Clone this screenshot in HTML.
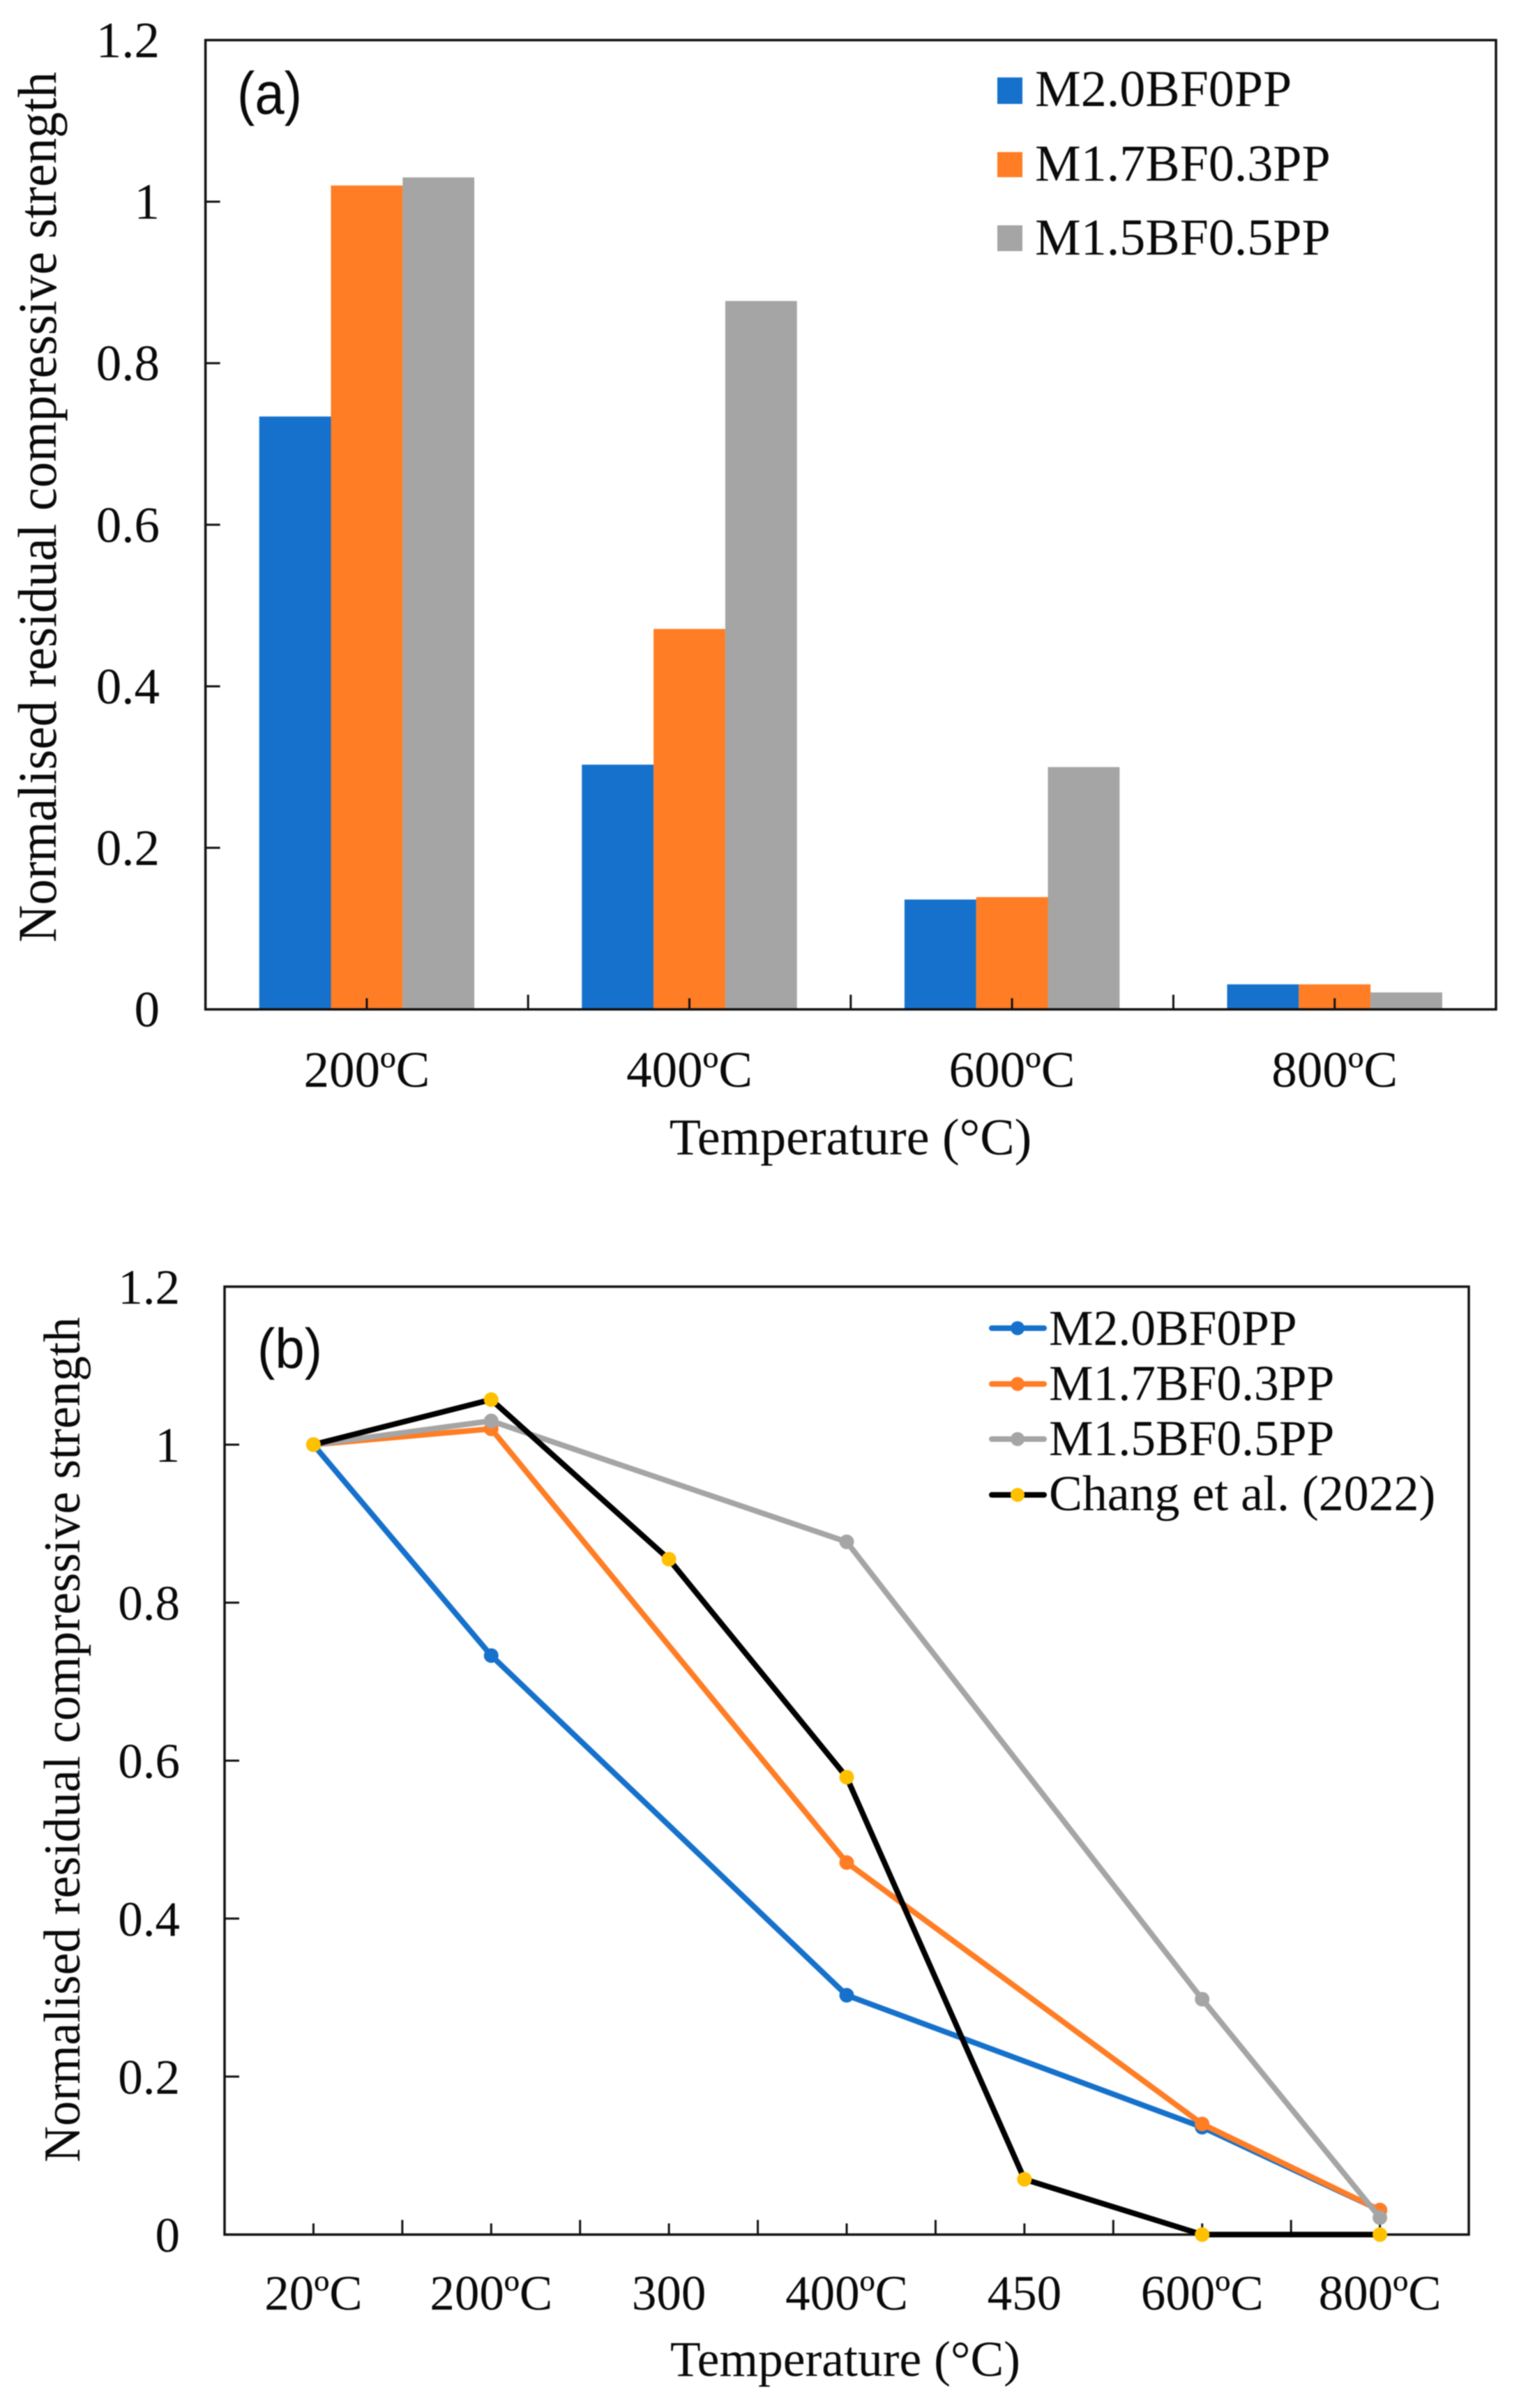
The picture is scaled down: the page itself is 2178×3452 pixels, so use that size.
<!DOCTYPE html>
<html lang="en">
<head>
<meta charset="utf-8">
<title>Normalised residual compressive strength</title>
<style>
html,body{margin:0;padding:0;background:#fff;width:2178px;height:3452px;overflow:hidden}
svg{display:block;filter:blur(0.7px)}
text{font-family:"Liberation Serif",serif;fill:#0a0a0a}
.sans{font-family:"Liberation Sans",sans-serif}
</style>
</head>
<body>
<svg id="root" xmlns="http://www.w3.org/2000/svg" width="2178" height="3452" viewBox="0 0 2178 3452">
  <rect x="0" y="0" width="2178" height="3452" fill="#fff"/>
  <g id="chartA"></g>
  <g id="chartB"></g>

  <text class="sans" x="340" y="163" font-size="85" textLength="93" lengthAdjust="spacingAndGlyphs">(a)</text>
  <text transform="translate(80,727) rotate(-90)" text-anchor="middle" font-size="78" textLength="1248" lengthAdjust="spacingAndGlyphs">Normalised residual compressive strength</text>
  <text x="1219.5" y="1655" text-anchor="middle" font-size="74">Temperature (°C)</text>

  <g>
    <g>
      <rect x="1430" y="111" width="36" height="38" fill="#1571CB"/>
      <text x="1484" y="152" font-size="74">M2.0BF0PP</text>
    </g>
    <g>
      <rect x="1430" y="218" width="36" height="36" fill="#FF7D25"/>
      <text x="1484" y="259" font-size="74">M1.7BF0.3PP</text>
    </g>
    <g>
      <rect x="1430" y="323" width="36" height="37" fill="#A5A5A5"/>
      <text x="1484" y="365" font-size="74">M1.5BF0.5PP</text>
    </g>
  </g>

  <text class="sans" x="369" y="1961" font-size="81" textLength="93" lengthAdjust="spacingAndGlyphs">(b)</text>
  <text transform="translate(114,2494) rotate(-90)" text-anchor="middle" font-size="74" textLength="1212" lengthAdjust="spacingAndGlyphs">Normalised residual compressive strength</text>
  <text x="1212" y="3406" text-anchor="middle" font-size="71.5">Temperature (°C)</text>

  <g>
    <g>
      <line x1="1422" x2="1497" y1="1904" y2="1904" stroke="#1571CB" stroke-width="8" stroke-linecap="round"/>
      <circle cx="1459" cy="1904" r="10" fill="#1571CB"/>
      <text x="1504" y="1928" font-size="71.5">M2.0BF0PP</text>
    </g>
    <g>
      <line x1="1422" x2="1497" y1="1984" y2="1984" stroke="#FF7D25" stroke-width="8" stroke-linecap="round"/>
      <circle cx="1459" cy="1984" r="10" fill="#FF7D25"/>
      <text x="1504" y="2007" font-size="71.5">M1.7BF0.3PP</text>
    </g>
    <g>
      <line x1="1422" x2="1497" y1="2063" y2="2063" stroke="#A5A5A5" stroke-width="8" stroke-linecap="round"/>
      <circle cx="1459" cy="2063" r="10" fill="#A5A5A5"/>
      <text x="1504" y="2086" font-size="71.5">M1.5BF0.5PP</text>
    </g>
    <g>
      <line x1="1422" x2="1497" y1="2143" y2="2143" stroke="#000" stroke-width="8" stroke-linecap="round"/>
      <circle cx="1459" cy="2143" r="10" fill="#FFC000"/>
      <text x="1504" y="2165" font-size="71.8">Chang et al. (2022)</text>
    </g>
  </g>
</svg>
<script>
// ---- Shared value axis ----
var yTickValues = [0, 0.2, 0.4, 0.6, 0.8, 1, 1.2];
var yTickLabels = ['0', '0.2', '0.4', '0.6', '0.8', '1', '1.2'];

// ---- Chart (a) data ----
var barCategories = ['200ºC', '400ºC', '600ºC', '800ºC'];
var barM20 = [0.734, 0.303, 0.136, 0.031];
var barM17 = [1.02, 0.471, 0.139, 0.031];
var barM15 = [1.03, 0.877, 0.30, 0.021];

// ---- Chart (b) data ----
var lineCategories = ['20ºC', '200ºC', '300', '400ºC', '450', '600ºC', '800ºC'];
var lineM20 = [1, 0.733, null, 0.303, null, 0.136, 0.031];
var lineM17 = [1, 1.02, null, 0.471, null, 0.14, 0.031];
var lineM15 = [1, 1.03, null, 0.877, null, 0.298, 0.0215];
var lineChang = [1, 1.057, 0.855, 0.579, 0.07, 0, 0];

var NS = 'http://www.w3.org/2000/svg';
var BLUE = '#1571CB', ORANGE = '#FF7D25', GRAY = '#A5A5A5', GOLD = '#FFC000', AXIS = '#111';

function make(parent, tag, attrs, txt) {
  var el = document.createElementNS(NS, tag);
  for (var k in attrs) el.setAttribute(k, attrs[k]);
  if (txt !== undefined) el.textContent = txt;
  parent.appendChild(el);
  return el;
}

function yScale(box, v) {
  return box.bottom - (v / 1.2) * (box.bottom - box.top);
}
function bandWidth(box, count) {
  return (box.right - box.left) / count;
}
function xCenter(box, count, i) {
  return box.left + bandWidth(box, count) * (i + 0.5);
}

function drawAxes(root, box, categories, prefix) {
  var frame = make(root, 'rect', {x: box.left, y: box.top, width: box.right - box.left, height: box.bottom - box.top, fill: 'none', stroke: AXIS, 'stroke-width': 3.5});
  
  

  yTickValues.forEach(function (v, i) {
    var y = yScale(box, v);
    if (i > 0 && i < yTickValues.length - 1) {
      var t = make(root, 'line', {x1: box.left, x2: box.left + 21, y1: y, y2: y, stroke: AXIS, 'stroke-width': 3});
      
      
    }
    var lab = make(root, 'text', {x: box.yLabelX, y: y + 24.5, 'text-anchor': 'end', 'font-size': box.font}, yTickLabels[i]);
    
    
  });

  categories.forEach(function (c, i) {
    var cx = xCenter(box, categories.length, i);
    var t = make(root, 'line', {x1: cx, x2: cx, y1: box.bottom, y2: box.bottom - 16, stroke: AXIS, 'stroke-width': 3});
    
    
    if (i > 0) {
      var bx = box.left + bandWidth(box, categories.length) * i;
      var b = make(root, 'line', {x1: bx, x2: bx, y1: box.bottom, y2: box.bottom - 21, stroke: AXIS, 'stroke-width': 3});
      
      
    }
    var lab = make(root, 'text', {x: cx, y: box.xLabelY, 'text-anchor': 'middle', 'font-size': box.font}, c);
    
    
  });
}

// ---- Chart (a) ----
var boxA = {left: 294.6, right: 2145, top: 57.5, bottom: 1447, yLabelX: 229, xLabelY: 1558, font: 73};
var rootA = document.getElementById('chartA');
var barSeries = [
  {key: 'm2-0bf0pp', values: barM20, color: BLUE},
  {key: 'm1-7bf0-3pp', values: barM17, color: ORANGE},
  {key: 'm1-5bf0-5pp', values: barM15, color: GRAY}
];
barSeries.forEach(function (s, j) {
  var w = bandWidth(boxA, barCategories.length) / 4.5;
  s.values.forEach(function (v, i) {
    var y = yScale(boxA, v);
    var x = xCenter(boxA, barCategories.length, i) + (j - 1.5) * w;
    var bar = make(rootA, 'rect', {x: x, y: y, width: w, height: boxA.bottom - y, fill: s.color});
    
    
  });
});
drawAxes(rootA, boxA, barCategories, 'chart-a');

// ---- Chart (b) ----
var boxB = {left: 322, right: 2106, top: 1844.5, bottom: 3203.4, yLabelX: 258, xLabelY: 3311, font: 71};
var rootB = document.getElementById('chartB');
drawAxes(rootB, boxB, lineCategories, 'chart-b');
var lineSeries = [
  {key: 'm2-0bf0pp', values: lineM20, color: BLUE, marker: BLUE},
  {key: 'm1-7bf0-3pp', values: lineM17, color: ORANGE, marker: ORANGE},
  {key: 'm1-5bf0-5pp', values: lineM15, color: GRAY, marker: GRAY},
  {key: 'chang-et-al', values: lineChang, color: '#000', marker: GOLD}
];
lineSeries.forEach(function (s) {
  var pts = [];
  s.values.forEach(function (v, i) {
    if (v !== null) pts.push([xCenter(boxB, lineCategories.length, i), yScale(boxB, v)]);
  });
  var d = pts.map(function (p) { return p[0].toFixed(1) + ',' + p[1].toFixed(1); }).join(' ');
  var line = make(rootB, 'polyline', {points: d, fill: 'none', stroke: s.color, 'stroke-width': 8, 'stroke-linejoin': 'round'});
  
  
  pts.forEach(function (p, i) {
    var dot = make(rootB, 'circle', {cx: p[0], cy: p[1], r: 10.5, fill: s.marker});
    
    
  });
});
</script>
</body>
</html>
